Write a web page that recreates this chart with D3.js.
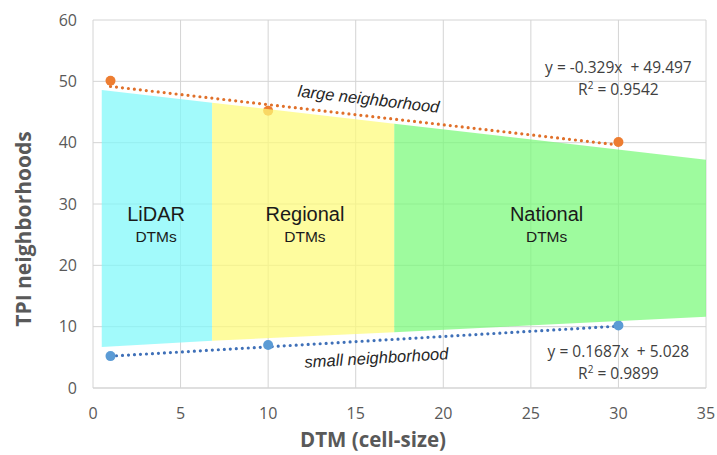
<!DOCTYPE html>
<html>
<head>
<meta charset="utf-8">
<script src="https://cdn.jsdelivr.net/npm/d3@7"></script>
<style>
  body { margin: 0; background: #fff; }
  svg text { font-family: "Open Sans", sans-serif; }
</style>
</head>
<body>
<svg width="717" height="455"></svg>
<script>
// data
var xTicks = [0, 5, 10, 15, 20, 25, 30, 35];
var yTicks = [0, 10, 20, 30, 40, 50, 60];

var cellSize = [1, 10, 30];
var largeVals = [50.1, 45.2, 40.1];
var smallVals = [5.2, 7.0, 10.2];

// trend lines (from the equations shown on the chart)
var largeFit = {slope: -0.329, intercept: 49.497, r2: "0.9542"};
var smallFit = {slope: 0.1687, intercept: 5.028, r2: "0.9899"};

// shaded band (DTM families)
var bandX = [0.5, 6.8, 17.2, 35];
var bandTop = [48.6, 46.5, 43.1, 37.2];
var bandBottom = [6.7, 7.7, 9.1, 11.6];
var bandNames = ["LiDAR", "Regional", "National"];
var bandColors = ["#7ef8fa", "#fdfb78", "#78fa78"];

var svg = d3.select("svg"),
  margin = {top: 20, right: 11, bottom: 67, left: 93},
  width = 717 - margin.left - margin.right,
  height = 455 - margin.top - margin.bottom;

var x = d3.scaleLinear().domain([0, 35]).range([0, width]);
var y = d3.scaleLinear().domain([0, 60]).range([height, 0]);

var g = svg.append("g").attr("transform", "translate(" + margin.left + "," + margin.top + ")");

// gridlines
g.append("g").selectAll("line").data(yTicks).enter().append("line")
  .attr("x1", 0).attr("x2", width)
  .attr("y1", function(d) { return y(d); }).attr("y2", function(d) { return y(d); })
  .attr("stroke", function(d) { return d === 0 ? "#bfbfbf" : "#d4d4d4"; })
  .attr("stroke-width", 1);
g.append("g").selectAll("line").data(xTicks).enter().append("line")
  .attr("y1", 0).attr("y2", height)
  .attr("x1", function(d) { return x(d); }).attr("x2", function(d) { return x(d); })
  .attr("stroke", "#d4d4d4").attr("stroke-width", 1);

// trend lines + markers
function trend(fit, col) {
  var pts = [cellSize[0], cellSize[cellSize.length - 1]].map(function(v) {
    return [v, fit.slope * v + fit.intercept];
  });
  g.append("line")
    .attr("x1", x(pts[0][0])).attr("y1", y(pts[0][1]))
    .attr("x2", x(pts[1][0])).attr("y2", y(pts[1][1]))
    .attr("stroke", col).attr("stroke-width", 3.2)
    .attr("stroke-linecap", "round")
    .attr("stroke-dasharray", "0 6");
}
trend(largeFit, "#e0702a");
trend(smallFit, "#3f70b8");

g.append("g").selectAll("circle").data(cellSize).enter().append("circle")
  .attr("cx", function(d) { return x(d); })
  .attr("cy", function(d, i) { return y(largeVals[i]); })
  .attr("r", 5).attr("fill", "#ed7d31");
g.append("g").selectAll("circle").data(cellSize).enter().append("circle")
  .attr("cx", function(d) { return x(d); })
  .attr("cy", function(d, i) { return y(smallVals[i]); })
  .attr("r", 5).attr("fill", "#5b9bd5");

// shaded bands (semi transparent, sit over the grid)
for (var i = 0; i < 3; i++) {
  var poly = [[bandX[i], bandTop[i]], [bandX[i + 1], bandTop[i + 1]],
    [bandX[i + 1], bandBottom[i + 1]], [bandX[i], bandBottom[i]]];
  g.append("polygon")
    .attr("points", poly.map(function(p) { return x(p[0]) + "," + y(p[1]); }).join(" "))
    .attr("fill", bandColors[i]).attr("fill-opacity", 0.72);
}

// band labels
var labelX = [3.6, 12.1, 25.9];
labelX.forEach(function(v, i) {
  g.append("text").attr("x", x(v)).attr("y", y(27.3))
    .attr("text-anchor", "middle")
    .style("font-family", "'Liberation Sans', Arial, sans-serif")
    .style("font-size", "20px").attr("fill", "#1a1a1a")
    .text(bandNames[i]);
  g.append("text").attr("x", x(v)).attr("y", y(23.8))
    .attr("text-anchor", "middle")
    .style("font-family", "'Liberation Sans', Arial, sans-serif")
    .style("font-size", "15.5px").attr("fill", "#1a1a1a")
    .text("DTMs");
});

// line labels (rotated along the trend)
function lineLabel(txt, xv, yv, fit) {
  var ang = Math.atan2(y(fit.slope) - y(0), x(1) - x(0)) * 180 / Math.PI;
  g.append("text")
    .attr("transform", "translate(" + x(xv) + "," + y(yv) + ") rotate(" + ang + ")")
    .attr("text-anchor", "middle")
    .style("font-family", "'Liberation Sans', Arial, sans-serif")
    .style("font-style", "italic").style("font-size", "16.5px")
    .attr("fill", "#262626")
    .text(txt);
}
lineLabel("large neighborhood", 15.7, 46.2, largeFit);
lineLabel("small neighborhood", 16.2, 4.0, smallFit);

// equations
function eqn(fit, xv, yv) {
  var s = fit.slope + "x  + " + fit.intercept;
  g.append("text").attr("x", x(xv)).attr("y", y(yv))
    .attr("text-anchor", "middle").style("font-size", "15.5px").attr("fill", "#404040")
    .style("white-space", "pre")
    .text("y = " + s);
  var t = g.append("text").attr("x", x(xv)).attr("y", y(yv) + 22)
    .attr("text-anchor", "middle").style("font-size", "15.5px").attr("fill", "#404040");
  t.append("tspan").text("R");
  t.append("tspan").attr("dy", -6).style("font-size", "10px").text("2");
  t.append("tspan").attr("dy", 6).text(" = " + fit.r2);
}
eqn(largeFit, 30, 51.4);
eqn(smallFit, 30, 5.1);

// axes tick labels
g.append("g").selectAll("text").data(yTicks).enter().append("text")
  .attr("x", -16).attr("y", function(d) { return y(d); }).attr("dy", "0.35em")
  .attr("text-anchor", "end").style("font-size", "16px").attr("fill", "#595959")
  .text(function(d) { return d; });
g.append("g").selectAll("text").data(xTicks).enter().append("text")
  .attr("x", function(d) { return x(d); }).attr("y", height + 25).attr("dy", "0.35em")
  .attr("text-anchor", "middle").style("font-size", "16px").attr("fill", "#595959")
  .text(function(d) { return d; });

// axis titles
svg.append("text").attr("x", 373).attr("y", 447)
  .attr("text-anchor", "middle").style("font-size", "20.5px").style("font-weight", "bold")
  .attr("fill", "#595959").text("DTM (cell-size)");
svg.append("text").attr("transform", "translate(31,229) rotate(-90)")
  .attr("text-anchor", "middle").style("font-size", "21px").style("font-weight", "bold")
  .attr("fill", "#595959").text("TPI neighborhoods");
</script>
</body>
</html>
